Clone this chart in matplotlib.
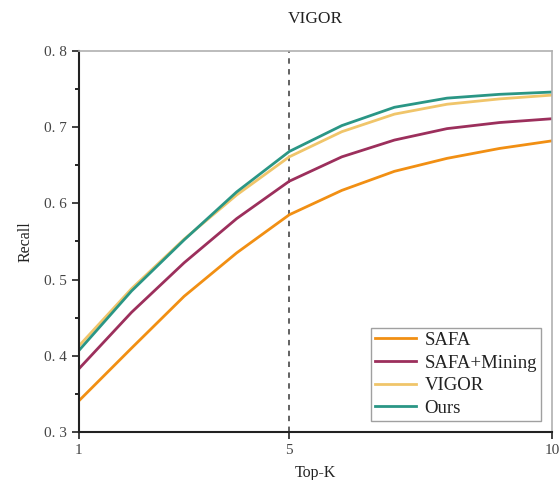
import matplotlib
matplotlib.use("Agg")
import matplotlib.pyplot as plt
from matplotlib.ticker import MultipleLocator, FixedLocator

# values at Top-K = 1..10
top_k = [1, 2, 3, 4, 5, 6, 7, 8, 9, 10]
safa = [0.341, 0.410, 0.478, 0.535, 0.585, 0.617, 0.642, 0.659, 0.672, 0.682]
safa_mining = [0.383, 0.457, 0.522, 0.580, 0.629, 0.661, 0.683, 0.698, 0.706, 0.711]
vigor = [0.413, 0.488, 0.553, 0.611, 0.661, 0.694, 0.717, 0.730, 0.737, 0.742]
ours = [0.407, 0.485, 0.552, 0.615, 0.668, 0.702, 0.726, 0.738, 0.743, 0.746]

names = ["SAFA", "SAFA+Mining", "VIGOR", "Ours"]
colors = ["#f18f13", "#9c2f5c", "#f0c56a", "#2a9685"]
x_ticks = [1, 5, 10]
y_labels = ["0. 3", "0. 4", "0. 5", "0. 6", "0. 7", "0. 8"]

plt.rcParams["font.family"] = ["Liberation Serif", "DejaVu Serif"]

fig = plt.figure(figsize=(5.6, 4.8), dpi=100)
ax = fig.add_axes([0.141, 0.1, 0.845, 0.794])

for series, name, c in zip([safa, safa_mining, vigor, ours], names, colors):
    ax.plot(top_k, series, color=c, lw=2.0, label=name, solid_joinstyle="round")

ax.axvline(5, color="#555555", ls=(0, (3, 3)), lw=1.3, zorder=0)

ax.set_xlim(1, 10)
ax.set_ylim(0.3, 0.8)
ax.xaxis.set_major_locator(FixedLocator(x_ticks))
ax.set_xticklabels([str(t) for t in x_ticks])
ax.yaxis.set_major_locator(FixedLocator([0.3, 0.4, 0.5, 0.6, 0.7, 0.8]))
ax.set_yticklabels(y_labels)
ax.yaxis.set_minor_locator(MultipleLocator(0.05))
ax.tick_params(axis="both", which="major", direction="out", length=5, width=1.2,
               labelsize=11, colors="#222222", labelcolor="#444444")
ax.tick_params(axis="y", which="minor", direction="out", length=3, width=1.2)

for side in ["left", "bottom"]:
    ax.spines[side].set_color("#222222")
    ax.spines[side].set_linewidth(1.5)
for side in ["top", "right"]:
    ax.spines[side].set_color("#b0b0b0")
    ax.spines[side].set_linewidth(1.2)

ax.set_title("VIGOR", fontsize=12.5, pad=20, color="#222222")
ax.set_xlabel("Top-K", fontsize=11.5, labelpad=6, color="#222222")
ax.set_ylabel("Recall", fontsize=11.5, labelpad=8, color="#222222")

leg = ax.legend(loc="lower right", fontsize=13.5, frameon=True, fancybox=False,
                edgecolor="#888888", handlelength=2.2, handletextpad=0.45,
                borderpad=0.2, labelspacing=0.3, borderaxespad=0.6)
leg.get_frame().set_linewidth(1.0)
for t in leg.get_texts():
    t.set_color("#222222")

fig.savefig("out.png", dpi=100)
